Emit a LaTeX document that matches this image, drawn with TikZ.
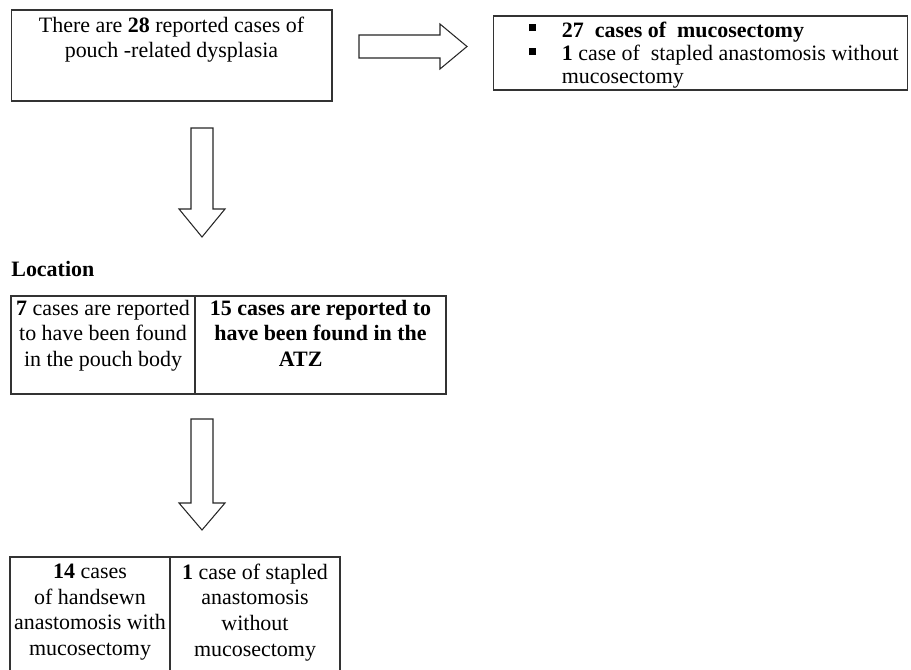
\documentclass[tikz,border=0pt]{standalone}
\usepackage{fontspec}
\setmainfont{Liberation Serif}
\usetikzlibrary{positioning}

\begin{document}
\begin{tikzpicture}[x=0.02cm, y=-0.02cm,
    box/.style={draw=black!80, line width=0.6pt, inner sep=0pt},
    txt/.style={inner sep=0pt, align=center, font=\fontsize{12.5}{14.6}\selectfont},
    blockarrow/.style={draw=black!85, line width=0.6pt, fill=white}]
  \useasboundingbox (0, 0) rectangle (911, 669);
  % top row
  \draw (171.5, 55.5) node[box, minimum width=6.42cm, minimum height=1.82cm](total){} ;
  \node[txt, below=4pt of total.north] (totaltxt) {There are \textbf{28} reported cases of\\pouch -related dysplasia};
  \draw (700.5, 53) node[box, minimum width=8.28cm, minimum height=1.48cm](types){} ;
  \node[txt, align=left, font=\fontsize{12.5}{12.6}\selectfont, below right=3.3pt and 20.4pt of types.north west] (typestxt)
    {\rule[3.4pt]{3.6pt}{4.2pt}\hspace{15pt}\textbf{27~ cases of~ mucosectomy}\\[1pt]
     \rule[3.4pt]{3.6pt}{4.2pt}\hspace{15pt}\textbf{1} case of~ stapled anastomosis without\\
     \hspace*{18.6pt}mucosectomy};
  \draw[blockarrow] (359, 35) -- (440, 35) -- (440, 24) -- (467, 46.5) -- (440, 69) -- (440, 58) -- (359, 58) -- cycle;
  \draw[blockarrow] (191, 128) -- (191, 209) -- (179, 209) -- (202, 237) -- (225, 209) -- (213, 209) -- (213, 128) -- cycle;
  % location
  \draw (11, 276.7) node[txt, anchor=base west](loc){\textbf{Location}} ;
  \draw (103, 345) node[box, minimum width=3.68cm, minimum height=1.96cm](body){} ;
  \node[txt, below=2.3pt of body.north] (bodytxt) {\textbf{7} cases are reported\\to have been found\\in the pouch body};
  \draw (320.5, 345) node[box, minimum width=5.02cm, minimum height=1.96cm](atz){} ;
  \node[txt, below=2.3pt of atz.north] (atztxt) {\textbf{15 cases are reported to}\\\textbf{have been found in the}\\\hspace*{-1.8em}\textbf{ATZ}};
  \draw[blockarrow] (191, 419) -- (191, 503) -- (179, 503) -- (202, 530) -- (225, 503) -- (213, 503) -- (213, 419) -- cycle;
  % bottom row
  \draw (90, 619) node[box, minimum width=3.2cm, minimum height=2.48cm](handsewn){} ;
  \node[txt, below=4pt of handsewn.north] (handsewntxt) {\textbf{14} cases\\of handsewn\\anastomosis with\\mucosectomy};
  \draw (255, 619) node[box, minimum width=3.4cm, minimum height=2.48cm](stapled){} ;
  \node[txt, below=4pt of stapled.north] (stapledtxt) {\textbf{1} case of stapled\\anastomosis\\without\\mucosectomy};
\end{tikzpicture}
\end{document}
